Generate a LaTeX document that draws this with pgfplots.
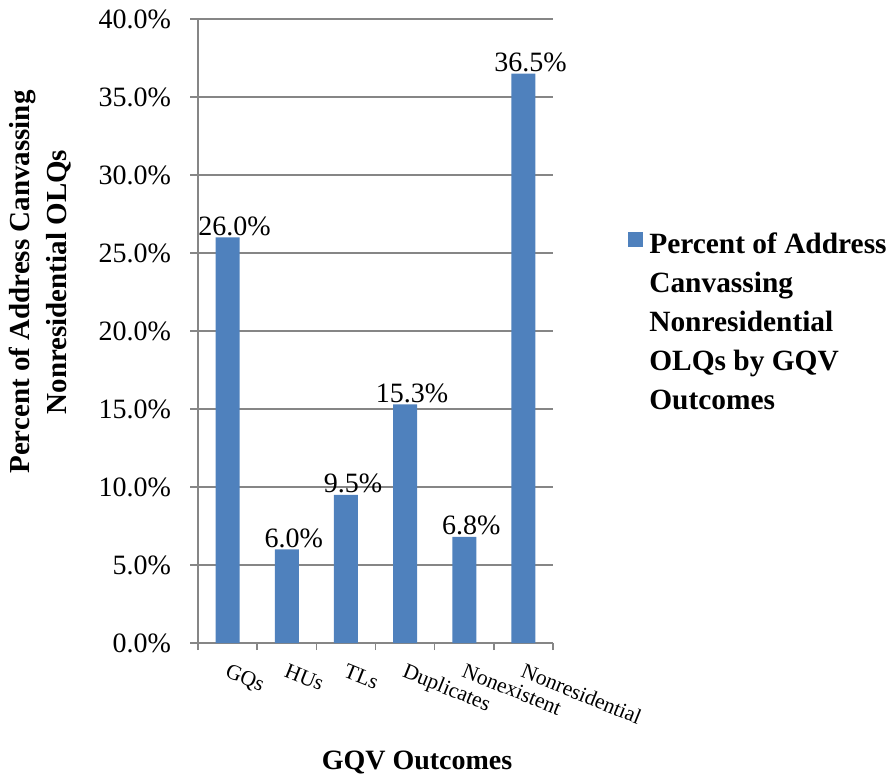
\documentclass[border=0pt]{standalone}
\usepackage{fontspec}
\setmainfont{Liberation Serif}
\usepackage{pgfplots}
\pgfplotsset{compat=1.18}
\definecolor{barblue}{HTML}{4F81BD}
\definecolor{gridgray}{HTML}{868686}
\begin{document}
\begin{tikzpicture}
\begin{axis}[
  scale only axis,
  width=177.5pt, height=312pt,
  xmin=-0.5, xmax=5.5, ymin=0, ymax=40,
  enlargelimits=false,
  axis lines=left,
  axis line style={-, draw=gridgray, line width=0.8pt},
  ymajorgrids,
  grid style={draw=gridgray, line width=0.8pt},
  tick align=outside,
  tick style={draw=gridgray, line width=0.8pt},
  ytick={0,5,...,40},
  major tick length=4pt,
  minor tick length=3.5pt,
  xtick={0,1,2,3,4,5},
  xticklabels={GQs,HUs,TLs,Duplicates,Nonexistent,Nonresidential},
  minor xtick={-0.5,0.5,...,5.5},
  major x tick style={draw=none},
  xticklabel style={rotate=-22, anchor=north west, inner sep=0pt, font=\fontsize{10.8}{12}\selectfont, yshift=-5pt, xshift=3pt},
  yticklabel={\pgfmathprintnumber[fixed,fixed zerofill,precision=1]{\tick}\%},
  yticklabel style={font=\fontsize{14}{16}\selectfont, xshift=-6pt},
  /pgf/number format/assume math mode=true,
  clip=false,
  legend style={draw=none, fill=none, at={(rel axis cs:1.211,0.665)}, anchor=north west, inner sep=0pt,
    font=\bfseries\fontsize{14.7}{19.5}\selectfont, legend cell align=left},
]
\addplot[ybar, bar width=12pt, fill=barblue, draw=none,
  legend image code/.code={\fill[barblue] (0pt,-1.5pt) rectangle (7.5pt,6pt);},
  nodes near coords={\pgfmathprintnumber[fixed,fixed zerofill,precision=1]{\pgfplotspointmeta}\%},
  every node near coord/.append style={font=\fontsize{14}{16}\selectfont, anchor=base, inner sep=0pt, yshift=1pt, xshift=3.5pt, text=black},
] coordinates {(0,26.0) (1,6.0) (2,9.5) (3,15.3) (4,6.8) (5,36.5)};
\addlegendentry{\hspace{1pt}\parbox[t]{125pt}{\raggedright Percent of Address\\Canvassing\\Nonresidential\\OLQs by GQV\\Outcomes}}
\node[rotate=90, align=center, font=\bfseries\fontsize{14.5}{18.5}\selectfont] at (rel axis cs:-0.445,0.5785) {Percent of Address Canvassing\\Nonresidential OLQs};
\node[font=\bfseries\fontsize{14}{16}\selectfont] at (rel axis cs:0.617,-0.1907) {GQV Outcomes};
\end{axis}
\pgfresetboundingbox
\path ([shift={(-99pt,-66.5pt)}]current axis.south west) rectangle ([shift={(167.5pt,9.5pt)}]current axis.north east);
\end{tikzpicture}
\end{document}
